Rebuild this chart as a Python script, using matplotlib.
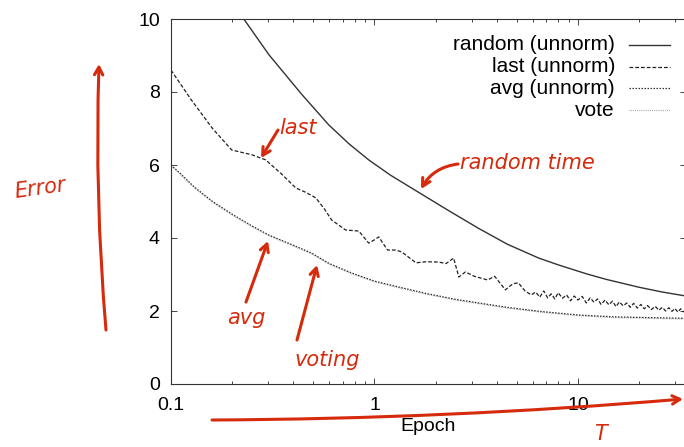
import matplotlib

matplotlib.use("Agg")
import matplotlib.pyplot as plt
from matplotlib.lines import Line2D
from matplotlib.ticker import FixedLocator, FixedFormatter, LogLocator, NullFormatter

plt.rcParams["font.family"] = ["Liberation Sans", "DejaVu Sans"]

# Data (epoch on a log axis, error)
epoch_random = [0.228, 0.303, 0.44, 0.596, 0.75, 0.937, 1.2, 1.65, 2.3, 3.26,
                4.5, 6.42, 8.05, 11, 13.7, 20, 26, 34]
err_random = [10.0, 9.02, 7.93, 7.1, 6.58, 6.14, 5.72, 5.25, 4.76, 4.26,
              3.83, 3.45, 3.26, 3.02, 2.87, 2.65, 2.52, 2.41]

epoch_last = [0.1, 0.126, 0.16, 0.199, 0.25, 0.292, 0.35, 0.411, 0.46, 0.515,
              0.567, 0.617, 0.721, 0.838, 0.937, 1.0, 1.05, 1.16, 1.27, 1.36,
              1.6, 1.8, 2.07, 2.25, 2.45, 2.6, 2.8, 3.1, 3.6, 3.9,
              4.4, 4.8, 5.1, 5.5, 5.9, 6.2, 6.5, 6.8, 7.1, 7.4,
              7.7, 8.0, 8.4, 8.8, 9.2, 9.6, 10, 10.5, 11, 11.5,
              12, 12.5, 13, 13.6, 14.2, 14.8, 15.4, 16, 16.7, 17.4,
              18.1, 18.8, 19.6, 20.4, 21.2, 22, 23, 24, 25, 26,
              27, 28, 29, 30, 31, 32, 33, 34]
err_last = [8.6, 7.78, 7.0, 6.41, 6.28, 6.14, 5.75, 5.37, 5.25, 5.10,
            4.8, 4.49, 4.22, 4.19, 3.86, 3.95, 4.03, 3.67, 3.67, 3.62,
            3.32, 3.35, 3.34, 3.3, 3.45, 2.93, 3.07, 2.95, 2.85, 2.95,
            2.58, 2.75, 2.77, 2.55, 2.44, 2.52, 2.38, 2.55, 2.36, 2.47,
            2.33, 2.50, 2.35, 2.44, 2.28, 2.41, 2.30, 2.40, 2.22, 2.36,
            2.24, 2.33, 2.18, 2.30, 2.17, 2.27, 2.12, 2.25, 2.14, 2.22,
            2.10, 2.21, 2.08, 2.18, 2.06, 2.15, 2.04, 2.13, 2.02, 2.10,
            2.00, 2.09, 1.99, 2.07, 1.97, 2.06, 1.98, 2.04]

epoch_avg = [0.1, 0.109, 0.13, 0.16, 0.2, 0.25, 0.303, 0.4, 0.49, 0.6,
             0.774, 1.0, 1.31, 1.8, 2.5, 3.26, 4.5, 6.5, 10.1, 15, 22, 34]
err_avg = [6.0, 5.81, 5.4, 5.0, 4.65, 4.33, 4.08, 3.8, 3.59, 3.3,
           3.04, 2.82, 2.66, 2.48, 2.32, 2.22, 2.1, 1.99, 1.89, 1.84, 1.82, 1.8]
epoch_vote = epoch_avg
err_vote = [5.98, 5.79, 5.38, 4.98, 4.63, 4.31, 4.06, 3.78, 3.57, 3.28,
            3.02, 2.80, 2.64, 2.46, 2.30, 2.20, 2.08, 1.97, 1.87, 1.82, 1.80, 1.78]

legend_labels = ["random (unnorm)", "last (unnorm)", "avg (unnorm)", "vote"]

W, H = 684, 447
fig = plt.figure(figsize=(W / 100, H / 100), dpi=100)
ax = fig.add_axes([171 / W, 1 - 384 / H, 515 / W, 365 / H])

styles = [dict(color="#333333", lw=1.0, ls="-"),
          dict(color="#222222", lw=0.9, ls=(0, (3, 1.6))),
          dict(color="#333333", lw=0.9, ls=(0, (1.2, 1.2))),
          dict(color="#9a9a9a", lw=0.9, ls=(0, (0.6, 0.9)))]

ax.plot(epoch_vote, err_vote, **styles[3])
ax.plot(epoch_avg, err_avg, **styles[2])
ax.plot(epoch_last, err_last, **styles[1])
ax.plot(epoch_random, err_random, **styles[0])

ax.set_xscale("log")
ax.set_xlim(0.1, 34)
ax.set_ylim(0, 10)
ax.xaxis.set_major_locator(FixedLocator([0.1, 1, 10]))
ax.xaxis.set_major_formatter(FixedFormatter(["0.1", "1", "10"]))
ax.xaxis.set_minor_locator(LogLocator(base=10, subs=range(2, 10)))
ax.xaxis.set_minor_formatter(NullFormatter())
ax.set_yticks([0, 2, 4, 6, 8, 10])
ax.tick_params(which="both", direction="in", top=True, right=True,
               labelsize=14, width=0.7, color="#444444")
ax.tick_params(which="major", length=4)
ax.tick_params(which="minor", length=2.5)
ax.tick_params(axis="x", which="major", pad=9)
ax.tick_params(axis="y", which="major", pad=8)
for s in ax.spines.values():
    s.set_linewidth(0.8)
    s.set_color("#333333")
ax.set_xlabel("Epoch", fontsize=14, labelpad=3)

# legend: right-aligned labels with the line sample after them
for i, (lab, st) in enumerate(zip(legend_labels, styles)):
    yy = 1 - (45 + 21.7 * i) / H
    fig.text(615 / W, yy, lab, ha="right", va="center", fontsize=15)
    fig.add_artist(Line2D([629 / W, 670 / W], [yy, yy], transform=fig.transFigure, **st))

# handwritten red notes
red = "#d52a0c"


def px(x, y):
    return (x / W, 1 - y / H)


hand = dict(color=red, fontsize=15, family=["DejaVu Sans"], style="italic",
            ha="center", va="center")
arrow = dict(arrowstyle="->,head_length=0.55,head_width=0.3", color=red, lw=2.2,
             shrinkA=0, shrinkB=0)


def note_arrow(start, end, rad=0.0):
    ax.annotate("", xy=px(*end), xytext=px(*start), xycoords="figure fraction",
                textcoords="figure fraction", annotation_clip=False,
                arrowprops=dict(arrow, connectionstyle=f"arc3,rad={rad}"))


fig.text(*px(40, 188), "Error", rotation=8, **hand)
note_arrow((106, 330), (99, 64), -0.03)

fig.text(*px(298, 128), "last", **hand)
note_arrow((278, 130), (261, 158))

fig.text(*px(527, 163), "random time", **hand)
note_arrow((458, 164), (421, 189), 0.25)

fig.text(*px(246, 318), "avg", **hand)
note_arrow((246, 302), (268, 241))

fig.text(*px(327, 360), "voting", **hand)
note_arrow((297, 340), (317, 265))

note_arrow((212, 420), (683, 399), 0.02)

fig.text(*px(600, 434), "T", **hand)

fig.savefig("out.png", dpi=100)
